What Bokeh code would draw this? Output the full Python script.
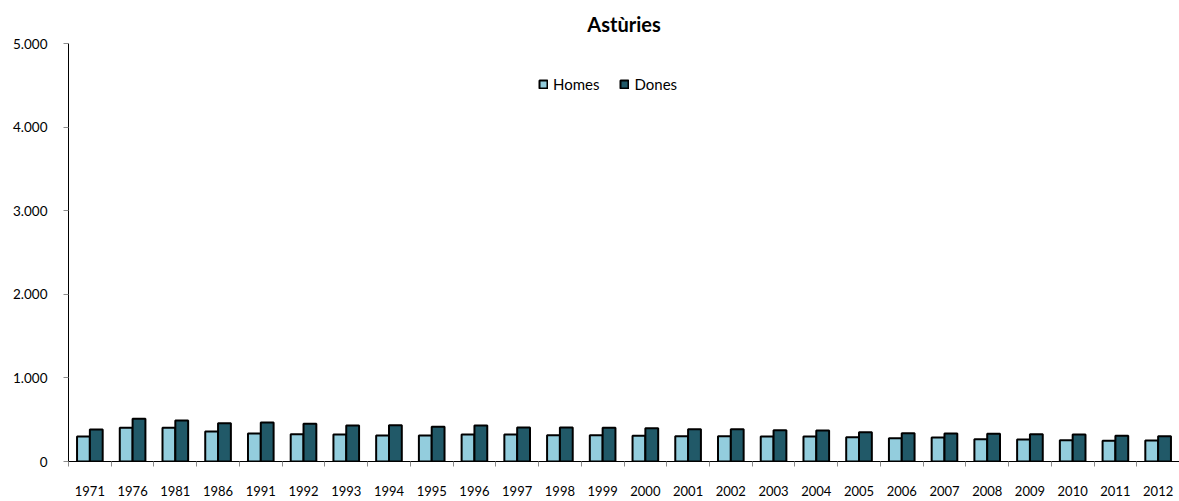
from bokeh.plotting import figure
from bokeh.models import (ColumnDataSource, Range1d, LinearAxis, FixedTicker, Legend, LegendItem)
from bokeh.transform import dodge
from bokeh.embed import file_html
from bokeh.resources import INLINE

years = ["1971", "1976", "1981", "1986", "1991", "1992", "1993", "1994", "1995", "1996",
         "1997", "1998", "1999", "2000", "2001", "2002", "2003", "2004", "2005", "2006",
         "2007", "2008", "2009", "2010", "2011", "2012"]
homes = [299, 403, 403, 359, 335, 327, 323, 311, 311, 323,
         323, 315, 315, 307, 303, 303, 299, 299, 291, 279,
         287, 267, 263, 255, 248, 251]
dones = [383, 511, 491, 459, 467, 451, 431, 435, 415, 431,
         407, 407, 403, 399, 387, 387, 375, 371, 351, 339,
         335, 331, 327, 323, 307, 303]
y_ticks = [0, 1000, 2000, 3000, 4000, 5000]
y_tick_labels = ["0", "1.000", "2.000", "3.000", "4.000", "5.000"]
title_text = "Astùries"
series_names = ["Homes", "Dones"]

FONT = "Lato"

n = len(years)
centers = [i + 0.5 for i in range(n)]
edges = list(range(n + 1))
source = ColumnDataSource(dict(pos=centers, years=years, homes=homes, dones=dones))

p = figure(width=1179, height=501, output_backend="svg", toolbar_location=None,
           x_range=Range1d(0, n), y_range=Range1d(0, 5000),
           x_axis_location=None, y_axis_location=None,
           min_border_left=68, min_border_right=0, min_border_top=43, min_border_bottom=40)

p.title.text = title_text
p.title.align = "center"
p.title.text_font = FONT
p.title.text_font_size = "20px"
p.title.text_font_style = "bold"
p.title.text_color = "black"
p.title.standoff = 15

p.outline_line_color = None
p.xgrid.visible = False
p.ygrid.visible = False

# y axis
yaxis = LinearAxis(ticker=FixedTicker(ticks=y_ticks),
                   major_label_overrides={t: l for t, l in zip(y_ticks, y_tick_labels)})
yaxis.axis_line_color = "black"
yaxis.major_tick_line_color = "#8c8c8c"
yaxis.major_tick_out = 5
yaxis.major_tick_in = 0
yaxis.minor_tick_line_color = None
yaxis.major_label_standoff = 16
yaxis.major_label_text_font = FONT
yaxis.major_label_text_font_size = "13.5px"
yaxis.major_label_text_color = "black"
p.add_layout(yaxis, "left")

# x axis: labels at category centers, ticks (minor) at category edges
xaxis = LinearAxis(ticker=FixedTicker(ticks=centers, minor_ticks=edges),
                   major_label_overrides={c: y for c, y in zip(centers, years)})
xaxis.axis_line_color = "black"
xaxis.major_tick_line_color = None
xaxis.major_tick_out = 0
xaxis.major_tick_in = 0
xaxis.minor_tick_line_color = "#8c8c8c"
xaxis.minor_tick_out = 5
xaxis.minor_tick_in = 0
xaxis.major_label_standoff = 19
xaxis.major_label_text_font = FONT
xaxis.major_label_text_font_size = "13px"
xaxis.major_label_text_color = "black"
p.add_layout(xaxis, "below")

r1 = p.vbar(x=dodge("pos", -0.15), top="homes", width=0.3, source=source,
            fill_color="#93CDDD", line_color="black", line_width=2)
r2 = p.vbar(x=dodge("pos", 0.15), top="dones", width=0.3, source=source,
            fill_color="#215968", line_color="black", line_width=2)

legend = Legend(items=[LegendItem(label=series_names[0], renderers=[r1]),
                       LegendItem(label=series_names[1], renderers=[r2])],
                location=(470, 368), orientation="horizontal")
legend.glyph_width = 10
legend.glyph_height = 10
legend.label_standoff = 5
legend.spacing = 20
legend.padding = 0
legend.margin = 0
legend.label_height = 14
legend.label_text_font = FONT
legend.label_text_font_size = "15px"
legend.label_text_color = "black"
legend.border_line_color = None
legend.background_fill_alpha = 0
p.add_layout(legend, "center")

open("out.html", "w").write(file_html(p, INLINE))
